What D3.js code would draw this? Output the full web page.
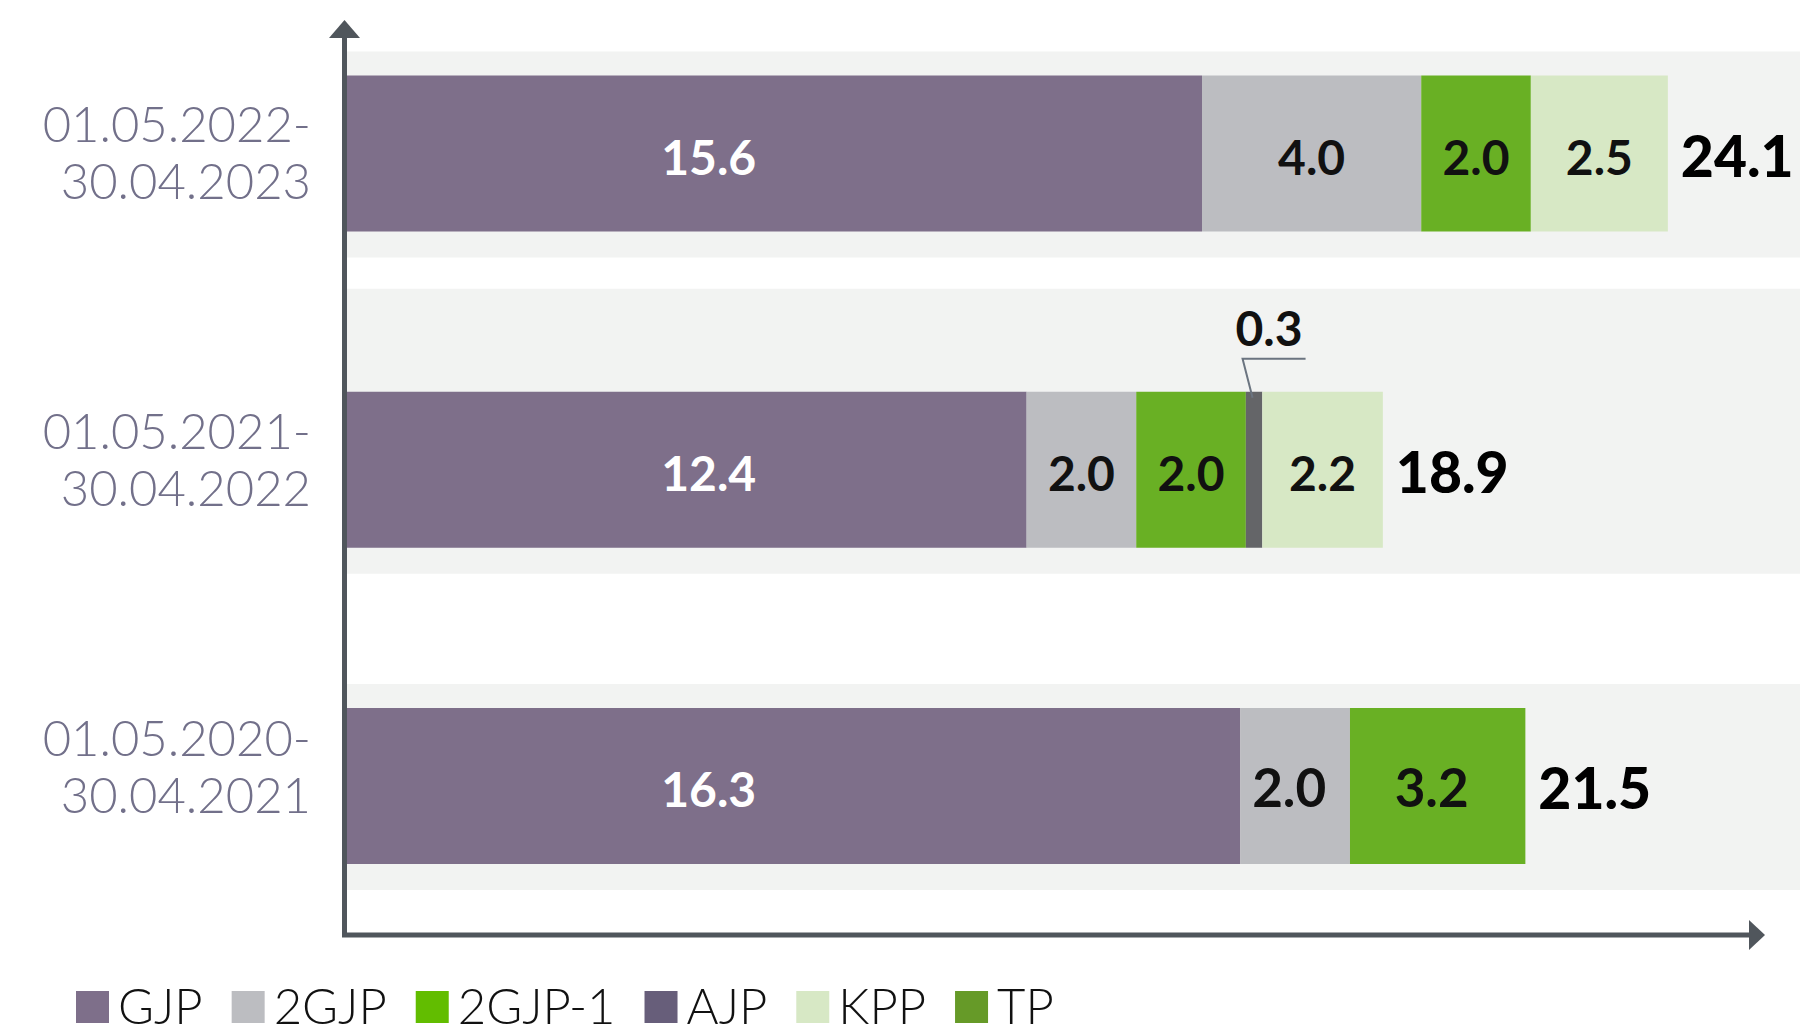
<!DOCTYPE html>
<html>
<head>
<meta charset="utf-8">
<script src="https://cdn.jsdelivr.net/npm/d3@7"></script>
<style>
  body { margin: 0; background: #fff; }
  svg { display: block; font-family: Lato, 'Open Sans', sans-serif; }
</style>
</head>
<body>
<svg id="chart" width="1803" height="1033"></svg>
<script>
// periods, top to bottom
const periods = ['01.05.2022-30.04.2023', '01.05.2021-30.04.2022', '01.05.2020-30.04.2021'];
const series = ['GJP', '2GJP', '2GJP-1', 'AJP', 'KPP', 'TP'];

// values per series, one entry per period
const gjp = [15.6, 12.4, 16.3];
const gjp2 = [4.0, 2.0, 2.0];
const gjp2b = [2.0, 2.0, 3.2];
const ajp = [0, 0.3, 0];
const kpp = [2.5, 2.2, 0];
const tp = [0, 0, 0];
const totals = [24.1, 18.9, 21.5];

const barColors = ['#7e6f8a', '#bcbdc1', '#69b024', '#646568', '#d7e8c5', '#669a28'];
const legendColors = ['#7e6f8a', '#bcbdc1', '#62bd00', '#675e7a', '#d7e8c5', '#669a28'];

// table for d3.stack
const rows = periods.map((p, i) => ({
  period: p,
  'GJP': gjp[i], '2GJP': gjp2[i], '2GJP-1': gjp2b[i],
  'AJP': ajp[i], 'KPP': kpp[i], 'TP': tp[i],
  total: totals[i]
}));

const svg = d3.select('#chart');
const axisColor = '#50565c';

// scales
const x = d3.scaleLinear().domain([0, 26]).range([347, 1772]);
const y = d3.scalePoint().domain(periods).range([153.5, 786]);
const yLabel = d3.scalePoint().domain(periods).range([153, 767]);
const barH = 156;
const color = d3.scaleOrdinal().domain(series).range(barColors);

const stacked = d3.stack().keys(series)(rows);
const hasCallout = (r) => series.some((s) => r[s] > 0 && r[s] < 1);

// background bands
svg.append('g').selectAll('rect').data(rows).enter().append('rect')
  .attr('x', 347)
  .attr('width', 1800 - 347)
  .attr('y', (d) => y(d.period) - (hasCallout(d) ? 181 : 102))
  .attr('height', (d) => (hasCallout(d) ? 181 : 102) + 104)
  .attr('fill', '#f2f3f2');

// stacked segments
const layers = svg.append('g').selectAll('g').data(stacked).enter().append('g')
  .attr('fill', (d) => color(d.key));

layers.selectAll('rect')
  .data((d) => d.filter((s) => s[1] - s[0] > 0))
  .enter().append('rect')
  .attr('x', (d) => x(d[0]))
  .attr('width', (d) => x(d[1]) - x(d[0]))
  .attr('y', (d) => y(d.data.period) - barH / 2)
  .attr('height', barH);

// segment labels
const segLabels = [];
stacked.forEach((layer) => {
  layer.forEach((s) => {
    const v = s[1] - s[0];
    if (v > 0) segLabels.push({ key: layer.key, v: v, s0: s[0], s1: s[1], period: s.data.period });
  });
});

const big = segLabels.filter((d) => d.v >= 1);
svg.append('g').selectAll('text').data(big).enter().append('text')
  .attr('x', (d) => (d.key === 'GJP' ? x(6.6) : (x(d.s0) + x(d.s1)) / 2 - (d.period === periods[2] ? 6 : 0)))
  .attr('y', (d) => y(d.period) + 21)
  .attr('text-anchor', 'middle')
  .attr('font-size', (d) => (d.period === periods[2] && d.key !== 'GJP' ? 53 : 48))
  .attr('font-weight', 700)
  .attr('fill', (d) => (d.key === 'GJP' ? '#fff' : '#111'))
  .text((d) => d.v.toFixed(1));

// small values get a callout above the bar
const small = segLabels.filter((d) => d.v < 1);
const callout = svg.append('g').selectAll('g').data(small).enter().append('g')
  .attr('transform', (d) => `translate(${(x(d.s0) + x(d.s1)) / 2},${y(d.period) - barH / 2})`);
callout.append('path')
  .attr('d', 'M-1.5,6 L-11.5,-33 L51.5,-33')
  .attr('fill', 'none')
  .attr('stroke', '#6b7480')
  .attr('stroke-width', 2);
callout.append('text')
  .attr('x', 15)
  .attr('y', -46)
  .attr('text-anchor', 'middle')
  .attr('font-size', 48)
  .attr('font-weight', 700)
  .attr('fill', '#111')
  .text((d) => d.v.toFixed(1));

// totals
svg.append('g').selectAll('text').data(rows).enter().append('text')
  .attr('x', (d) => x(d.total) + 13)
  .attr('y', (d) => y(d.period) + 23)
  .attr('font-size', 57)
  .attr('font-weight', 900)
  .attr('fill', '#000')
  .text((d) => d.total.toFixed(1));

// period labels, two lines
const lbl = svg.append('g').selectAll('text').data(periods).enter().append('text')
  .attr('text-anchor', 'end')
  .attr('font-size', 49)
  .attr('font-weight', 300)
  .attr('fill', '#72708a');
lbl.append('tspan').attr('x', 311).attr('y', (d) => yLabel(d) - 11).text((d) => d.split('-')[0] + '-');
lbl.append('tspan').attr('x', 311).attr('y', (d) => yLabel(d) + 46).text((d) => d.split('-')[1]);

// axes with arrow heads
const axes = svg.append('g');
axes.append('line')
  .attr('x1', 344.5).attr('x2', 344.5).attr('y1', 937).attr('y2', 36)
  .attr('stroke', axisColor).attr('stroke-width', 5);
axes.append('path').attr('d', 'M329,38 L360,38 L344.5,20 Z').attr('fill', axisColor);
axes.append('line')
  .attr('x1', 342).attr('x2', 1752).attr('y1', 935).attr('y2', 935)
  .attr('stroke', axisColor).attr('stroke-width', 5);
axes.append('path').attr('d', 'M1749,920 L1749,950 L1765,935 Z').attr('fill', axisColor);

// legend
const legend = svg.append('g').attr('transform', 'translate(76,991)');
let lx = 0;
series.forEach((s, i) => {
  const item = legend.append('g').attr('transform', `translate(${lx},0)`);
  item.append('rect').attr('width', 33).attr('height', 32).attr('fill', legendColors[i]);
  const t = item.append('text')
    .attr('x', 42)
    .attr('y', 33)
    .attr('font-size', 49)
    .attr('font-weight', 300)
    .attr('fill', '#111')
    .text(s);
  lx += 42 + t.node().getComputedTextLength() + 29;
});
</script>
</body>
</html>
